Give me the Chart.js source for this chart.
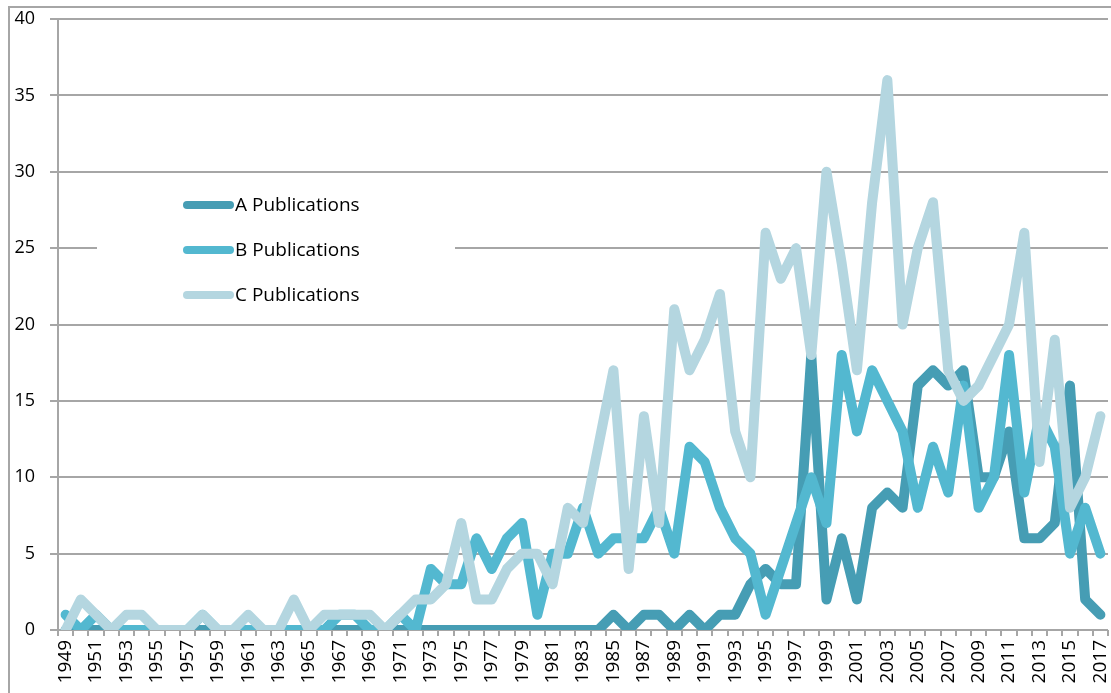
<!DOCTYPE html>
<html lang="en">
<head>
    <meta charset="UTF-8">
    <title>Publications per year</title>
    <script src="https://cdnjs.cloudflare.com/ajax/libs/Chart.js/4.4.1/chart.umd.min.js"></script>
    <style>
        * {
            margin: 0;
            padding: 0;
            box-sizing: border-box;
        }

        body {
            background: #fff;
            width: 1111px;
            height: 693px;
            overflow: hidden;
            position: relative;
        }

        .frame {
            position: absolute;
            left: 8px;
            top: 6px;
            width: 1200px;
            height: 800px;
            border-left: 2px solid #a6a6a6;
            border-top: 2px solid #a6a6a6;
        }

        .chart-box {
            position: absolute;
            left: 0;
            top: 0;
            width: 1111px;
            height: 693px;
        }
    </style>
</head>
<body>
    <div class="frame"></div>
    <div class="chart-box">
        <canvas id="pubChart" width="1111" height="693"></canvas>
    </div>

    <script>
        // categories
        const years = [
            '1949','1950','1951','1952','1953','1954','1955','1956','1957','1958',
            '1959','1960','1961','1962','1963','1964','1965','1966','1967','1968',
            '1969','1970','1971','1972','1973','1974','1975','1976','1977','1978',
            '1979','1980','1981','1982','1983','1984','1985','1986','1987','1988',
            '1989','1990','1991','1992','1993','1994','1995','1996','1997','1998',
            '1999','2000','2001','2002','2003','2004','2005','2006','2007','2008',
            '2009','2010','2011','2012','2013','2014','2015','2016','2017'
        ];

        // series values
        const pubA = [
            0,0,0,0,0,0,0,0,0,0,
            0,0,0,0,0,0,0,0,0,0,
            0,0,0,0,0,0,0,0,0,0,
            0,0,0,0,0,0,1,0,1,1,
            0,1,0,1,1,3,4,3,3,18,
            2,6,2,8,9,8,16,17,16,17,
            10,10,13,6,6,7,16,2,1
        ];
        const pubB = [
            1,0,1,0,0,0,0,0,0,1,
            0,0,0,0,0,0,0,0,1,1,
            0,0,1,0,4,3,3,6,4,6,
            7,1,5,5,8,5,6,6,6,8,
            5,12,11,8,6,5,1,4,7,10,
            7,18,13,17,15,13,8,12,9,16,
            8,10,18,9,14,12,5,8,5
        ];
        const pubC = [
            0,2,1,0,1,1,0,0,0,1,
            0,0,1,0,0,2,0,1,1,1,
            1,0,1,2,2,3,7,2,2,4,
            5,5,3,8,7,12,17,4,14,7,
            21,17,19,22,13,10,26,23,25,18,
            30,24,17,28,36,20,25,28,17,15,
            16,18,20,26,11,19,8,10,14
        ];

        const seriesNames = ['A Publications', 'B Publications', 'C Publications'];
        const seriesColors = ['#469db4', '#53b8d0', '#b4d6e0'];

        const gridGrey = '#a6a6a6';
        const fontFamily = "'Open Sans', 'DejaVu Sans', sans-serif";

        // white box with the legend, sitting inside the plot area
        const insideLegend = {
            id: 'insideLegend',
            beforeDatasetsDraw(chart) {
                const ctx = chart.ctx;
                ctx.save();
                ctx.fillStyle = '#fff';
                ctx.fillRect(97, 178, 358, 140);
                ctx.restore();
            },
            afterDatasetsDraw(chart) {
                const ctx = chart.ctx;
                ctx.save();
                chart.data.datasets.forEach((ds, i) => {
                    const y = 205 + i * 45;
                    ctx.strokeStyle = ds.borderColor;
                    ctx.lineWidth = 8;
                    ctx.lineCap = 'round';
                    ctx.beginPath();
                    ctx.moveTo(187, y);
                    ctx.lineTo(230, y);
                    ctx.stroke();
                    ctx.fillStyle = '#000';
                    ctx.font = '19px ' + fontFamily;
                    ctx.textBaseline = 'middle';
                    ctx.fillText(ds.label, 235, y + 1);
                });
                ctx.restore();
            }
        };

        const ctx = document.getElementById('pubChart').getContext('2d');
        new Chart(ctx, {
            type: 'line',
            data: {
                labels: years,
                datasets: [pubA, pubB, pubC].map((vals, i) => ({
                    label: seriesNames[i],
                    data: vals,
                    borderColor: seriesColors[i],
                    backgroundColor: seriesColors[i],
                    fill: false,
                    order: 2 - i   // C on top, A underneath
                }))
            },
            options: {
                responsive: false,
                animation: false,
                layout: { padding: { top: 19, right: 3, left: 0, bottom: 0 } },
                plugins: {
                    legend: { display: false },
                    tooltip: { enabled: false }
                },
                elements: {
                    point: { radius: 0 },
                    line: {
                        borderWidth: 10,
                        borderCapStyle: 'round',
                        borderJoinStyle: 'round',
                        tension: 0
                    }
                },
                scales: {
                    x: {
                        type: 'category',
                        offset: true,
                        grid: {
                            display: true,
                            drawOnChartArea: false,
                            drawTicks: true,
                            tickLength: 6,
                            offset: true,
                            color: gridGrey,
                            lineWidth: 2
                        },
                        border: { display: false },
                        ticks: {
                            autoSkip: false,
                            minRotation: 90,
                            maxRotation: 90,
                            padding: 4,
                            color: '#000',
                            font: { family: fontFamily, size: 19 },
                            callback: (v, i) => (i % 2 === 0 ? years[i] : '')
                        },
                        afterFit: scale => {
                            scale.height = 63;
                            scale.paddingLeft = 0;
                            scale.paddingRight = 0;
                        }
                    },
                    y: {
                        min: 0,
                        max: 40,
                        ticks: {
                            stepSize: 5,
                            padding: 15,
                            color: '#000',
                            font: { family: fontFamily, size: 18 }
                        },
                        grid: {
                            color: gridGrey,
                            lineWidth: 2,
                            tickLength: 8
                        },
                        border: { color: gridGrey, width: 2 },
                        afterFit: scale => {
                            scale.width = 58;
                            scale.paddingTop = 0;
                            scale.paddingBottom = 0;
                        }
                    }
                }
            },
            plugins: [insideLegend]
        });
    </script>
</body>
</html>
